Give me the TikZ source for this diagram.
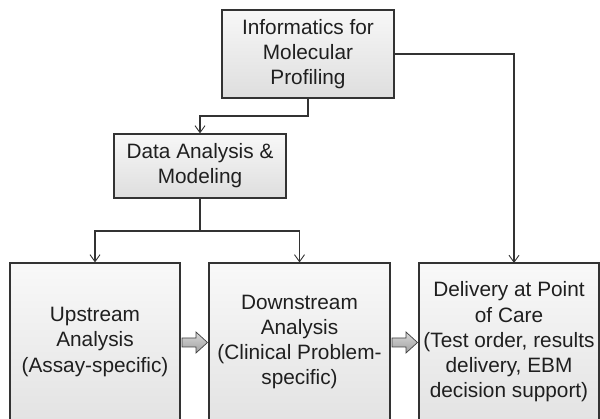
\documentclass[tikz,border=0pt]{standalone}
\usepackage{fontspec}
\setmainfont{Liberation Sans}
\usetikzlibrary{arrows.meta}
\begin{document}
\begin{tikzpicture}[x=1pt,y=-1pt,
  box/.style={draw=black!80, line width=1.1pt, top color=gray!6, bottom color=gray!26,
    align=center, inner sep=0pt, text=black!88,
    font=\fontsize{20.8}{25.2}\selectfont},
  tallbox/.style={box, top color=gray!5, bottom color=gray!22},
  link/.style={draw=black!80, line width=1.2pt, -{Straight Barb[length=7pt,width=10pt,line width=0.9pt]}},
  blockarrow/.style={draw=black!75, line width=0.7pt, top color=gray!30, bottom color=gray!75}]
\useasboundingbox (0,0) rectangle (600,419);
\clip (0,0) rectangle (600,419);

% upper boxes
\node[box, minimum width=172pt, minimum height=88pt] (info) at (308,54)
  {Informatics for\\Molecular\\Profiling};
\node[box, minimum width=172pt, minimum height=64pt] (data) at (200,166)
  {Data Analysis \&\\Modeling};

% lower boxes (run past the bottom edge)
\node[tallbox, minimum width=170pt, minimum height=158pt] (up) at (95,342)
  {Upstream\\Analysis\\(Assay-specific)};
\node[tallbox, minimum width=181pt, minimum height=158pt] (down) at (299.5,342)
  {Downstream\\Analysis\\(Clinical Problem-\\specific)};
\node[tallbox, minimum width=180pt, minimum height=158pt] (poc) at (509,342)
  {Delivery at Point\\of Care\\(Test order, results\\delivery, EBM\\decision support)};

% connectors
\coordinate (split1) at (308,116);
\coordinate (split2) at (200,231);
\coordinate (pocin) at (514,263);
\draw[link] (info.south) -- (split1) -| (data.north);
\draw[link] (data.south) -- (split2) -| (up.north);
\draw[link] (split2) -| (down.north);
\draw[link] (info.east) -| (pocin);

% block arrows between lower boxes
\draw[blockarrow] (182,338) -- (196,338) -- (196,332) -- (207.5,342.5) -- (196,353) -- (196,347) -- (182,347) -- cycle;
\draw[blockarrow] (392,338) -- (406,338) -- (406,332) -- (417.5,342.5) -- (406,353) -- (406,347) -- (392,347) -- cycle;
\end{tikzpicture}
\end{document}
